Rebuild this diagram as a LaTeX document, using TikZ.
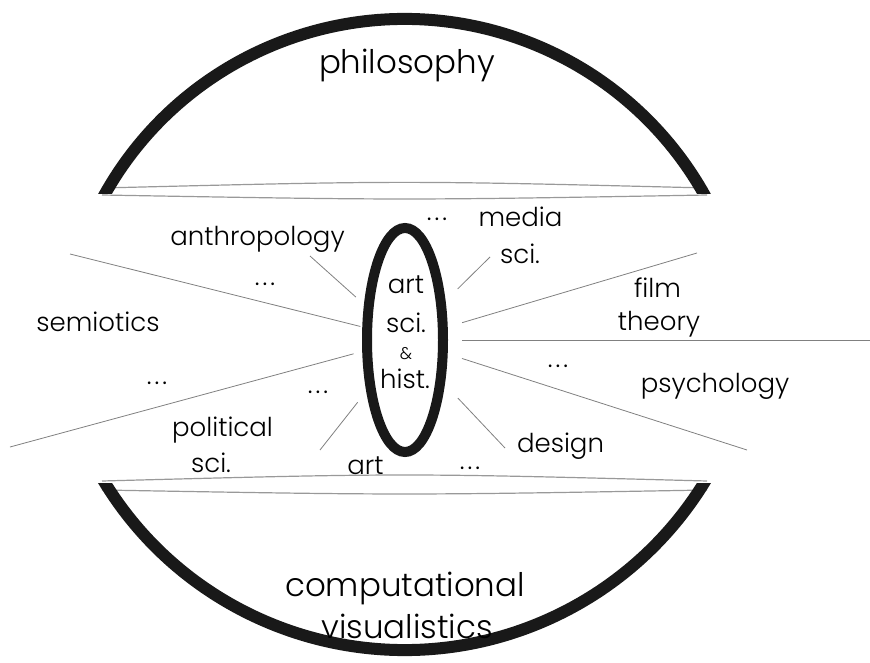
\documentclass[tikz,border=0pt]{standalone}
\usepackage{fontspec}
\setmainfont{Poppins}[UprightFont=* Light]
\usetikzlibrary{shapes.geometric}
\newcommand{\gap}{.\kern3pt.\kern3pt.}

\begin{document}
\begin{tikzpicture}[x=1pt,y=-1pt,
  lbl/.style={anchor=base,inner sep=0pt,font=\fontsize{26}{30}\selectfont},
  big/.style={anchor=base,inner sep=0pt,font=\fontsize{32.5}{36}\selectfont},
  ray/.style={draw=black!50,line width=0.8pt},
  lens/.style={draw=black!40,line width=1.2pt},
  cup/.style={draw=black!90,line width=12pt}
]
  \useasboundingbox (0,0) rectangle (870,663);
  % thin lenses under the two cups
  \draw[lens] (102,188) .. controls (404.5,180.5) .. (707,188);
  \draw[lens] (102,195) .. controls (404.5,200.3) .. (707,195);
  \draw[lens] (102,481) .. controls (404.5,473) .. (707,481);
  \draw[lens] (102,490) .. controls (404.5,495.3) .. (707,490);
  \begin{scope}
    \clip (0,0) rectangle (870,194);
    \draw[cup] (404.5,362.8) ++(204:343.8) arc[start angle=204,end angle=336,radius=343.8];
  \end{scope}
  \begin{scope}
    \clip (0,483) rectangle (870,663);
    \draw[cup] (404.5,298) ++(154:352) arc[start angle=154,end angle=26,radius=352];
  \end{scope}
  \node[big] (phil) at (407,74) {philosophy};
  \node[big] (comp) at (405,596) {computational};
  \node[big] (visu) at (407,638) {visualistics};
  % the core
  \node[draw=black!90,ellipse,line width=10pt,minimum width=76pt,minimum height=224pt,inner sep=0pt] (core) at (405,340) {};
  \node[lbl] (cart) at (406,293) {art};
  \node[lbl] (csci) at (406,332) {sci.};
  \node[anchor=base,inner sep=0pt,font=\fontsize{17}{18}\selectfont] (camp) at (406,359) {\&};
  \node[lbl] (chist) at (405,388) {hist.};
  % labels round the core
  \node[lbl] (anth) at (257.5,245.5) {anthropology};
  \node[lbl] (dotsa) at (265,285) {\gap};
  \node[lbl] (semi) at (98,331) {semiotics};
  \node[lbl] (dotsb) at (157,384) {\gap};
  \node[lbl] (dotsc) at (318,393) {\gap};
  \node[lbl] (poli) at (222.5,436) {political};
  \node[lbl] (polisci) at (211,472) {sci.};
  \node[lbl] (art) at (365.5,474) {art};
  \node[lbl] (dotsd) at (470,469) {\gap};
  \node[lbl] (dotse) at (437,221) {\gap};
  \node[lbl] (media) at (520.5,227) {media};
  \node[lbl] (mediasci) at (520,263) {sci.};
  \node[lbl] (film) at (657.5,297) {film};
  \node[lbl] (theo) at (659,330) {theory};
  \node[lbl] (dotsf) at (558,367) {\gap};
  \node[lbl] (psych) at (715,392) {psychology};
  \node[lbl] (design) at (560.5,452) {design};
  % rays
  \coordinate (r1) at (70,254);
  \coordinate (r2) at (10,447);
  \coordinate (r3) at (310,256);
  \coordinate (r4) at (320,450);
  \coordinate (r5) at (490,257);
  \coordinate (r6) at (697,253);
  \coordinate (r7) at (870,340);
  \coordinate (r8) at (747,450);
  \coordinate (r9) at (505,448);
  \draw[ray,shorten <=2pt] (core.163) -- (r1);
  \draw[ray,shorten <=9pt] (core.195) -- (r2);
  \draw[ray,shorten <=11pt] (core.139) -- (r3);
  \draw[ray,shorten <=14pt] (core.233) -- (r4);
  \draw[ray,shorten <=17pt] (core.44) -- (r5);
  \draw[ray,shorten <=15pt] (core.17) -- (r6);
  \draw[ray,shorten <=14pt] (core.0) -- (r7);
  \draw[ray,shorten <=15pt] (core.342) -- (r8);
  \draw[ray,shorten <=19pt] (core.312) -- (r9);
\end{tikzpicture}
\end{document}
